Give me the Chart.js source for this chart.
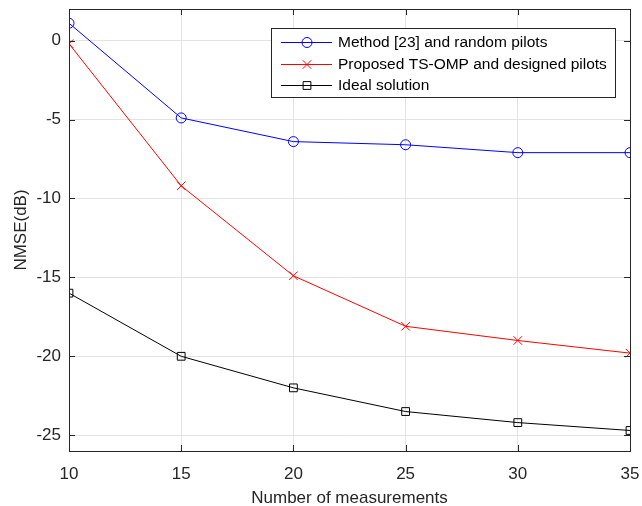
<!DOCTYPE html>
<html>
<head>
<meta charset="utf-8">
<script src="https://cdn.jsdelivr.net/npm/chart.js@4/dist/chart.umd.min.js"></script>
<style>
  html, body { margin: 0; padding: 0; background: #fff; }
  #wrap { width: 642px; height: 506px; }
</style>
</head>
<body>
<div id="wrap"><canvas id="nmseChart" width="642" height="506"></canvas></div>
<script>
// данные
const measurements = [10, 15, 20, 25, 30, 35];
const methodRandom = [1.1, -4.9, -6.4, -6.6, -7.1, -7.1];
const proposedTsOmp = [-0.2, -9.2, -14.9, -18.1, -19.0, -19.8];
const idealSolution = [-16.0, -20.0, -22.0, -23.5, -24.2, -24.7];
const yTicks = [0, -5, -10, -15, -20, -25];

const toPoints = arr => arr.map((v, i) => ({ x: measurements[i], y: v }));
const FONT = "'Liberation Sans', Arial, sans-serif";
const AXIS = '#262626';

// рамка, внутренние засечки и легенда как в MATLAB
const matlabBox = {
  id: 'matlabBox',
  afterDatasetsDraw(chart) {
    const { ctx, chartArea: a, scales } = chart;
    ctx.save();
    ctx.strokeStyle = AXIS;
    ctx.lineWidth = 1;
    ctx.strokeRect(a.left + 0.5, a.top + 0.5, a.right - a.left, a.bottom - a.top);
    ctx.beginPath();
    measurements.forEach(v => {
      const px = Math.round(scales.x.getPixelForValue(v)) + 0.5;
      ctx.moveTo(px, a.bottom); ctx.lineTo(px, a.bottom - 6);
      ctx.moveTo(px, a.top); ctx.lineTo(px, a.top + 6);
    });
    yTicks.forEach(v => {
      const py = Math.round(scales.y.getPixelForValue(v)) + 0.5;
      ctx.moveTo(a.left, py); ctx.lineTo(a.left + 6, py);
      ctx.moveTo(a.right, py); ctx.lineTo(a.right - 6, py);
    });
    ctx.stroke();

    // легенда
    const lx = 271, ly = 28, lw = 344, lh = 69;
    ctx.fillStyle = '#fff';
    ctx.fillRect(lx, ly, lw, lh);
    ctx.strokeStyle = AXIS;
    ctx.strokeRect(lx + 0.5, ly + 0.5, lw, lh);
    ctx.font = '15.5px ' + FONT;
    ctx.textBaseline = 'middle';
    chart.data.datasets.forEach((ds, i) => {
      const y = Math.round(ly + 14 + i * 21.5);
      ctx.strokeStyle = ds.borderColor;
      ctx.lineWidth = 1;
      ctx.beginPath();
      ctx.moveTo(281, y + 0.5); ctx.lineTo(332, y + 0.5);
      ctx.stroke();
      ctx.fillStyle = 'rgba(0,0,0,0)';
      Chart.helpers.drawPoint(ctx, {
        pointStyle: ds.pointStyle, radius: ds.pointRadius, borderWidth: 1
      }, 307, y + 0.5);
      ctx.fillStyle = '#000';
      ctx.fillText(ds.label, 338, y + 1);
    });
    ctx.restore();
  }
};

new Chart(document.getElementById('nmseChart'), {
  type: 'line',
  data: {
    datasets: [{
      label: 'Method [23] and random pilots',
      data: toPoints(methodRandom),
      borderColor: '#0000ff',
      pointStyle: 'circle',
      pointRadius: 5
    }, {
      label: 'Proposed TS-OMP and designed pilots',
      data: toPoints(proposedTsOmp),
      borderColor: '#ff0000',
      pointStyle: 'crossRot',
      pointRadius: 6
    }, {
      label: 'Ideal solution',
      data: toPoints(idealSolution),
      borderColor: '#000000',
      pointStyle: 'rect',
      pointRadius: 5.5
    }].map(ds => Object.assign(ds, {
      borderWidth: 1,
      pointBorderWidth: 1,
      pointBackgroundColor: 'rgba(0,0,0,0)',
      pointBorderColor: ds.borderColor,
      tension: 0,
      fill: false
    }))
  },
  options: {
    responsive: false,
    animation: false,
    layout: { padding: { top: 9, right: 12, left: 0, bottom: 0 } },
    plugins: { legend: { display: false }, tooltip: { enabled: false } },
    scales: {
      x: {
        type: 'linear',
        min: 10, max: 35,
        afterFit: s => { s.height = 55; s.paddingLeft = 0; s.paddingRight = 0; },
        afterBuildTicks: s => { s.ticks = measurements.map(v => ({ value: v })); },
        grid: { color: '#e3e3e3', drawTicks: false },
        border: { display: false },
        ticks: { padding: 13, color: AXIS, font: { family: FONT, size: 17 } },
        title: {
          display: true, text: 'Number of measurements', color: AXIS,
          font: { family: FONT, size: 17 }, padding: { top: 0, bottom: -3 }
        }
      },
      y: {
        min: -26, max: 2,
        afterFit: s => { s.width = 69; s.paddingTop = 0; s.paddingBottom = 0; },
        afterBuildTicks: s => { s.ticks = yTicks.map(v => ({ value: v })); },
        grid: { color: '#e3e3e3', drawTicks: false },
        border: { display: false },
        ticks: { padding: 8, color: AXIS, font: { family: FONT, size: 17 } },
        title: {
          display: true, text: 'NMSE(dB)', color: AXIS,
          font: { family: FONT, size: 17 }, padding: { top: 11, bottom: 0 }
        }
      }
    }
  },
  plugins: [matlabBox]
});
</script>
</body>
</html>
